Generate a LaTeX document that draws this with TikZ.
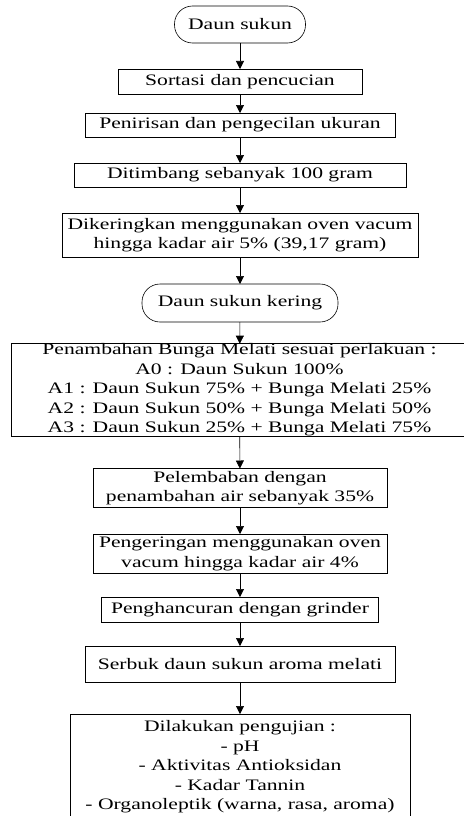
\documentclass[tikz,border=0pt]{standalone}
\usepackage{fontspec}
\setmainfont{Liberation Serif}[FakeStretch=1.35]
\usetikzlibrary{arrows.meta}

\begin{document}
\begin{tikzpicture}[x=1pt,y=-1pt,
  kotak/.style = {rectangle,draw,semithick,align=center,inner sep=0pt,outer sep=0pt,font=\fontsize{16}{19.5}\selectfont},
  ujung/.style = {kotak,rounded corners=18pt},
  panah/.style = {-{Triangle[width=8pt,length=8pt]},semithick}]
\useasboundingbox (0,0) rectangle (463,816);
\node[ujung,minimum width=131pt,minimum height=37pt] (daun) at (240,24.5) {Daun sukun};
\node[kotak,minimum width=244pt,minimum height=25pt] (sortasi) at (240,81.5) {Sortasi dan pencucian};
\node[kotak,minimum width=310pt,minimum height=24pt] (tiris) at (240,125) {Penirisan dan pengecilan ukuran};
\node[kotak,minimum width=332pt,minimum height=24pt] (timbang) at (240,175) {Ditimbang sebanyak 100 gram};
\node[kotak,minimum width=356pt,minimum height=44pt] (kering) at (240,235) {Dikeringkan menggunakan oven vacum\\hingga kadar air 5\% (39,17 gram)};
\node[ujung,minimum width=196pt,minimum height=38pt] (daunkering) at (240,303) {Daun sukun kering};
\node[kotak,minimum width=457pt,minimum height=88pt] (tambah) at (239.5,390) {Penambahan Bunga Melati sesuai perlakuan :\\A0 : Daun Sukun 100\%\\A1 : Daun Sukun 75\% + Bunga Melati 25\%\\A2 : Daun Sukun 50\% + Bunga Melati 50\%\\A3 : Daun Sukun 25\% + Bunga Melati 75\%};
\node[kotak,minimum width=294pt,minimum height=39pt] (lembab) at (240,488) {Pelembaban dengan\\penambahan air sebanyak 35\%};
\node[kotak,minimum width=294pt,minimum height=39pt] (oven) at (240,553.5) {Pengeringan menggunakan oven\\vacum hingga kadar air 4\%};
\node[kotak,minimum width=277pt,minimum height=25pt] (hancur) at (240,609.5) {Penghancuran dengan grinder};
\node[kotak,minimum width=310pt,minimum height=36pt] (serbuk) at (240,664) {Serbuk daun sukun aroma melati};
\node[kotak,minimum width=340pt,minimum height=106pt] (uji) at (240,767) {Dilakukan pengujian :\\- pH\\- Aktivitas Antioksidan\\- Kadar Tannin\\- Organoleptik (warna, rasa, aroma)};
\foreach \a/\b in {daun/sortasi, sortasi/tiris, tiris/timbang, timbang/kering, kering/daunkering, daunkering/tambah, tambah/lembab, lembab/oven, oven/hancur, hancur/serbuk, serbuk/uji}
    \draw[panah] (\a) -- (\b);
\end{tikzpicture}
\end{document}
